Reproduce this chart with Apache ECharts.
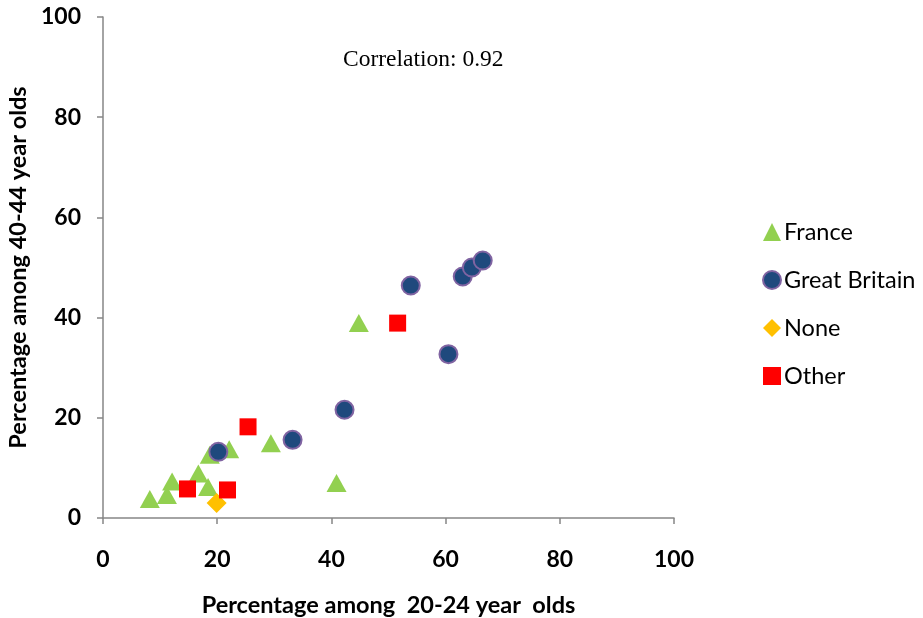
<!DOCTYPE html>
<html>
<head>
<meta charset="utf-8">
<script src="https://cdn.jsdelivr.net/npm/echarts@6/dist/echarts.min.js"></script>
<style>html,body{margin:0;padding:0;background:#fff}#c{width:923px;height:618px}</style>
</head>
<body>
<div id="c"></div>
<script>
const seriesNames = ['France', 'Great Britain', 'None', 'Other'];
const franceData = [[8.2,3.8],[11.2,4.6],[12.1,7.3],[16.7,8.9],[18.4,6.2],[18.7,12.6],[22.1,13.7],[29.4,14.9],[40.9,7.0],[44.8,38.9]];
const gbData = [[20.2,13.2],[33.2,15.6],[42.3,21.6],[53.9,46.4],[60.5,32.7],[63.0,48.2],[64.6,50.0],[66.5,51.4]];
const noneData = [[19.9,3.0]];
const otherData = [[14.8,5.8],[21.8,5.6],[25.4,18.2],[51.6,38.9]];
const xTicks = [0,20,40,60,80,100];
const yTicks = [0,20,40,60,80,100];
const xTitle = 'Percentage among  20-24 year  olds';
const yTitle = 'Percentage among 40-44 year olds';
const noteText = 'Correlation: 0.92';

const font = 'Lato, "Open Sans", sans-serif';
const chart = echarts.init(document.getElementById('c'), null, {renderer:'canvas'});
const axisCommon = {
  min: xTicks[0], max: xTicks[xTicks.length-1], interval: 20,
  axisLine: {show:true, lineStyle:{color:'#868686', width:1.5}},
  axisTick: {show:true, length:6, lineStyle:{color:'#868686', width:1.5}},
  splitLine: {show:false},
  nameLocation: 'middle',
  nameTextStyle: {fontFamily:font, fontWeight:'bold', fontSize:23.5, color:'#000'},
  axisLabel: {fontFamily:font, fontWeight:'bold', fontSize:23, color:'#000'}
};
chart.setOption({
  animation: false,
  grid: {left:103, right:249, top:17, bottom:100, containLabel:false, outerBoundsMode:'none'},
  graphic: [{type:'text', left:343, top:48, style:{text:noteText, font:'23.5px "Liberation Serif", "Times New Roman", serif', fill:'#000'}}],
  legend: {
    orient:'vertical', left:757, top:215, itemGap:24, itemWidth:18, itemHeight:18,
    textStyle:{fontFamily:font, fontSize:23.5, color:'#000', padding:[0,0,0,-2]},
    data: seriesNames.map(n=>({name:n}))
  },
  xAxis: Object.assign({}, axisCommon, {
    type:'value', name:xTitle, nameGap:75,
    axisLabel: Object.assign({}, axisCommon.axisLabel, {margin:30})
  }),
  yAxis: Object.assign({}, axisCommon, {
    type:'value', min:yTicks[0], max:yTicks[yTicks.length-1], name:yTitle, nameGap:70,
    axisLabel: Object.assign({}, axisCommon.axisLabel, {margin:22})
  }),
  series: [
    {name:seriesNames[0], type:'scatter', symbol:'triangle', symbolSize:[20,18], data:franceData,
     itemStyle:{color:'#92D050', opacity:1}},
    {name:seriesNames[1], type:'scatter', symbol:'circle', symbolSize:18, data:gbData,
     itemStyle:{color:'#1F497D', borderColor:'#8064A2', borderWidth:2, opacity:1}},
    {name:seriesNames[2], type:'scatter', symbol:'diamond', symbolSize:[20,20], data:noneData,
     itemStyle:{color:'#FFC000', opacity:1}},
    {name:seriesNames[3], type:'scatter', symbol:'rect', symbolSize:17, data:otherData,
     itemStyle:{color:'#FF0000', opacity:1}}
  ]
});
</script>
</body>
</html>
